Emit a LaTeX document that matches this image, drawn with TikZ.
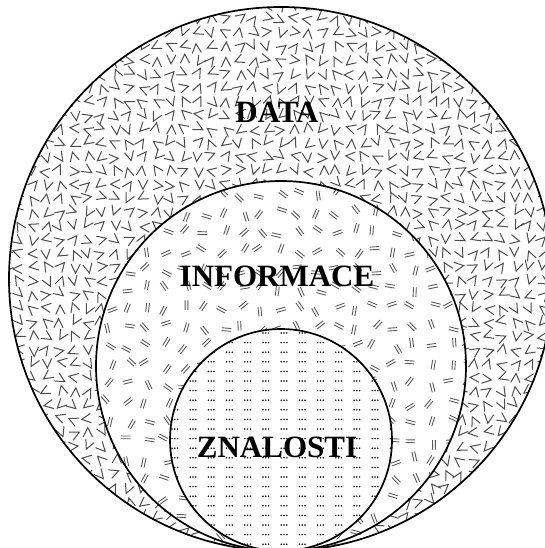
\documentclass[tikz,border=0pt]{standalone}
\usepackage{fontspec}
\setmainfont{Liberation Serif}
\begin{document}
\begin{tikzpicture}[x=1pt,y=-1pt,
  ring/.style={draw=black, line width=1.7pt},
  vmark/.style={draw=black!70, line width=1pt, line cap=round},
  eqmark/.style={draw=black!65, line width=0.9pt},
  dotmark/.style={fill=black},
  title/.style={font=\bfseries\fontsize{31}{31}\selectfont, inner sep=0pt, text=black}]
\useasboundingbox (0,0) rectangle (544,548);
\pgfmathsetseed{4711}
% centres of the three nested circles (all touching at the bottom)
\coordinate (cData) at (281,279);
\coordinate (cInfo) at (281,366);
\coordinate (cZnal) at (281,440);

% outer disc: scattered V strokes, each centred on its grid cell
\begin{scope}
  \clip (cData) circle (272);
  \foreach \i in {0,...,40} {
    \foreach \j in {0,...,40} {
      \pgfmathsetmacro\px{\i*13.8+5+rand*2}
      \pgfmathsetmacro\py{\j*13.8+5+rand*2}
      \pgfmathsetmacro\ang{rnd*360}
      \begin{scope}[shift={(\px,\py)}, rotate=\ang]
        \draw[vmark] (4.5,-4.5) -- (-4.5,0) -- (4.5,4.5);
      \end{scope}
    }
  }
\end{scope}

% middle disc: scattered double dashes
\fill[white] (cInfo) circle (185);
\begin{scope}
  \clip (cInfo) circle (185);
  \foreach \i in {0,...,20} {
    \foreach \j in {0,...,20} {
      \pgfmathsetmacro\px{\i*19+90+rand*4}
      \pgfmathsetmacro\py{\j*19+175+rand*4}
      \pgfmathsetmacro\ang{rnd*180}
      \begin{scope}[shift={(\px,\py)}, rotate=\ang]
        \draw[eqmark] (-4.8,-1.4) -- (4.8,-1.4) (-4.8,1.4) -- (4.8,1.4);
      \end{scope}
    }
  }
\end{scope}

% inner disc: rows of short dotted groups
\fill[white] (cZnal) circle (111);
\begin{scope}
  \clip (cZnal) circle (111);
  \foreach \i in {0,...,13} {
    \foreach \j in {0,...,23} {
      \pgfmathsetmacro\px{\i*18.2+172}
      \pgfmathsetmacro\py{\j*9.6+333}
      \fill[dotmark] (\px,\py) circle (0.85) (\px+2.8,\py) circle (0.85) (\px+5.6,\py) circle (0.85);
    }
  }
\end{scope}

% outlines
\draw[ring] (cData) circle (272);
\draw[ring] (cInfo) circle (185);
\draw[ring] (cZnal) circle (111);

% labels
\node[title] (data) at (277,112) {DATA};
\node[title] (informace) at (277,276) {INFORMACE};
\node[title] (znalosti) at (277,447) {ZNALOSTI};
\end{tikzpicture}
\end{document}
